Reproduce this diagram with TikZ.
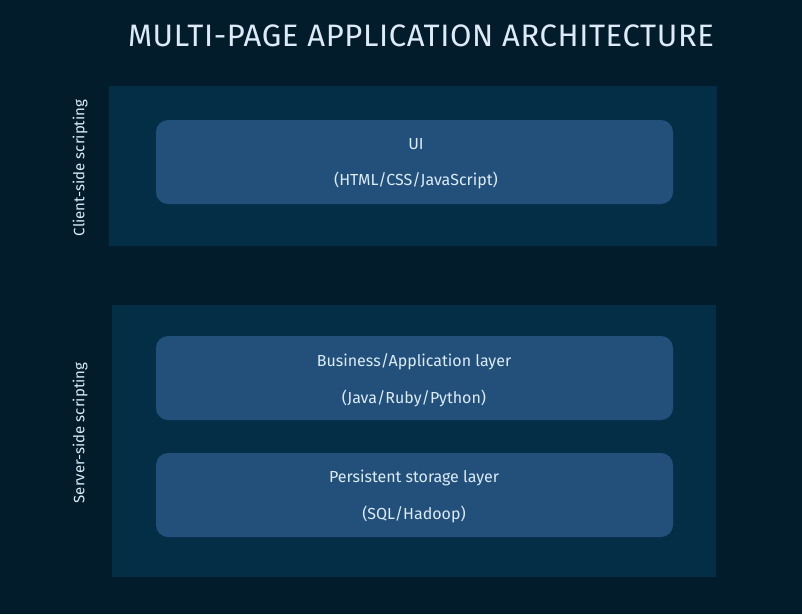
\documentclass[tikz,border=0pt]{standalone}
\usepackage{fontspec}
\setmainfont{Fira Sans}
\definecolor{bg}{HTML}{031C2C}
\definecolor{panel}{HTML}{042D46}
\definecolor{boxc}{HTML}{22507A}
\definecolor{txt}{HTML}{DCEBF7}
\begin{document}
\begin{tikzpicture}[x=1pt,y=-1pt,
  panelbox/.style={fill=panel,draw=none},
  layerbox/.style={fill=boxc,draw=none,rounded corners=12pt},
  lbl/.style={text=txt,font=\fontsize{16}{19}\selectfont},
  side/.style={text=txt,font=\fontsize{15}{18}\selectfont,rotate=90}]
\fill[bg] (0,0) rectangle (802,614);
\useasboundingbox (0,0) rectangle (802,614);
\node[text=txt,font=\fontsize{31}{36}\selectfont\addfontfeatures{LetterSpace=2}] (title) at (421,36) {MULTI-PAGE APPLICATION ARCHITECTURE};
\path[panelbox] (109,86) rectangle (717,246);
\path[panelbox] (112,305) rectangle (716,577);
\node (client) [side] at (80,168) {Client-side scripting};
\node (server) [side] at (80,433) {Server-side scripting};
\path[layerbox] (156,120) rectangle (673,204);
\path[layerbox] (156,336) rectangle (673,420);
\path[layerbox] (156,453) rectangle (673,537);
\node (ui1) [lbl] at (416,144) {UI};
\node (ui2) [lbl] at (416,180) {(HTML/CSS/JavaScript)};
\node (b1) [lbl] at (414,362) {Business/Application layer};
\node (b2) [lbl] at (414,398) {(Java/Ruby/Python)};
\node (p1) [lbl] at (414,478) {Persistent storage layer};
\node (p2) [lbl] at (414,514) {(SQL/Hadoop)};
\end{tikzpicture}
\end{document}
